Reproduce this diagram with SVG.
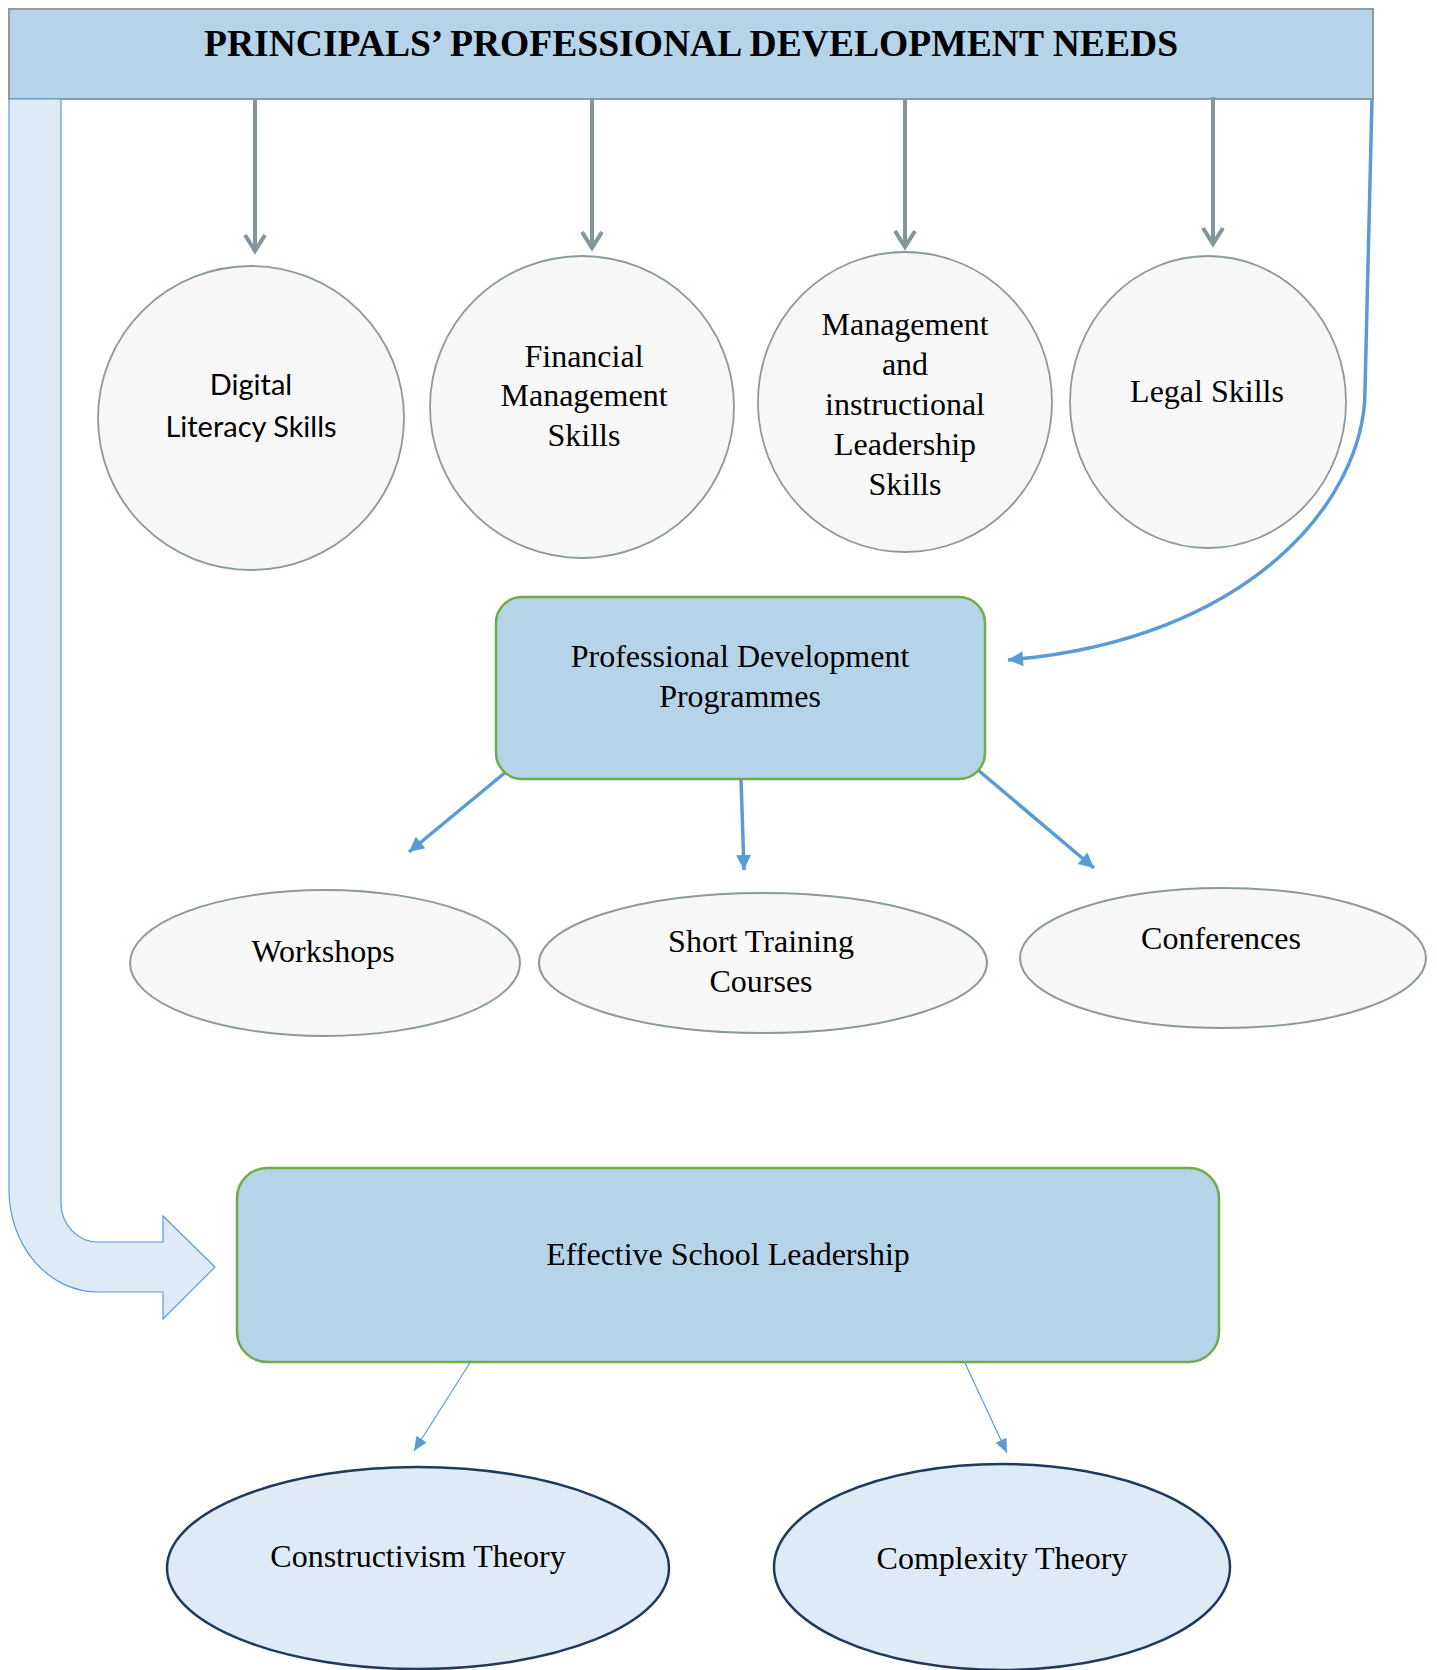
<svg xmlns="http://www.w3.org/2000/svg" width="1437" height="1670" viewBox="0 0 1437 1670">
<defs>
<style>
.serif{font-family:"Liberation Serif","Times New Roman",serif;font-size:32px;fill:#000;text-anchor:middle}
.sans{font-family:Lato,"Liberation Sans",sans-serif;font-size:29px;fill:#000;text-anchor:middle}
.title{font-family:"Liberation Serif","Times New Roman",serif;font-size:37.6px;font-weight:bold;fill:#000;text-anchor:middle}
.skill{fill:#F7F7F7;stroke:#8B999F;stroke-width:1.8}
.prog{fill:#F7F7F7;stroke:#8B999F;stroke-width:2}
.box{fill:#B5D4EA;stroke:#70AD47;stroke-width:2.5}
.theory{fill:#DEEAF6;stroke:#1F3A5A;stroke-width:2.5}
.gline{stroke:#85959C;stroke-width:4;fill:none}
.bline{stroke:#5B9BD5;stroke-width:3.5;fill:none}
.tline{stroke:#5B9BD5;stroke-width:1.2;fill:none}
</style>
<marker id="chev" viewBox="-20 -12 24 24" markerWidth="24" markerHeight="24" refX="0" refY="0" markerUnits="userSpaceOnUse" orient="auto" overflow="visible">
<path d="M-16,-10 L0,0 L-16,10" fill="none" stroke="#85959C" stroke-width="4"/>
</marker>
<marker id="tri" viewBox="-16 -9 18 18" markerWidth="18" markerHeight="18" refX="0" refY="0" markerUnits="userSpaceOnUse" orient="auto" overflow="visible">
<path d="M-15,-7.5 L0,0 L-15,7.5 Z" fill="#5B9BD5"/>
</marker>
<marker id="tris" viewBox="-16 -9 18 18" markerWidth="18" markerHeight="18" refX="0" refY="0" markerUnits="userSpaceOnUse" orient="auto" overflow="visible">
<path d="M-14,-6 L0,0 L-14,6 Z" fill="#5B9BD5"/>
</marker>
</defs>
<rect width="1437" height="1670" fill="#fff"/>

<g id="title">
<rect x="9" y="9" width="1364" height="90" fill="#B5D4EA" stroke="#8C9BA3" stroke-width="2"/>
<text class="title" x="691" y="56">PRINCIPALS’ PROFESSIONAL DEVELOPMENT NEEDS</text>
</g>

<g id="bent-arrow">
<path d="M9,99 L9,1190 A89 102 0 0 0 98,1292 L163,1292 L163,1319 L215,1267 L163,1216 L163,1242 L98,1242 A37 39 0 0 1 61,1203 L61,99 Z" fill="#DEEAF6" stroke="#5B9BD5" stroke-width="1.2"/>
</g>

<g id="connectors">
<line class="gline" x1="255" y1="99" x2="255" y2="251" marker-end="url(#chev)"/>
<line class="gline" x1="592" y1="99" x2="592" y2="248" marker-end="url(#chev)"/>
<line class="gline" x1="905" y1="99" x2="905" y2="247" marker-end="url(#chev)"/>
<line class="gline" x1="1213" y1="97" x2="1213" y2="244" marker-end="url(#chev)"/>
<path class="bline" d="M1372,99 L1365,390 C1365,500 1250,640 1008,660" stroke-width="3.2" marker-end="url(#tri)"/>
<line class="bline" x1="507" y1="771" x2="409" y2="852" marker-end="url(#tri)"/>
<line class="bline" x1="741" y1="779" x2="744" y2="870" marker-end="url(#tri)"/>
<line class="bline" x1="978" y1="770" x2="1094" y2="868" marker-end="url(#tri)"/>
<line class="tline" x1="473" y1="1358" x2="414" y2="1451" marker-end="url(#tris)"/>
<line class="tline" x1="965" y1="1363" x2="1007" y2="1453" marker-end="url(#tris)"/>
</g>

<g id="digital">
<ellipse class="skill" cx="251" cy="418" rx="153" ry="152"/>
<text class="sans" x="251" y="395">Digital</text>
<text class="sans" x="251" y="437">Literacy Skills</text>
</g>
<g id="financial">
<ellipse class="skill" cx="582" cy="407" rx="152" ry="151"/>
<text class="serif" x="584" y="367">Financial</text>
<text class="serif" x="584" y="406">Management</text>
<text class="serif" x="584" y="446">Skills</text>
</g>
<g id="management">
<ellipse class="skill" cx="905" cy="402" rx="147" ry="150"/>
<text class="serif" x="905" y="335">Management</text>
<text class="serif" x="905" y="375">and</text>
<text class="serif" x="905" y="415">instructional</text>
<text class="serif" x="905" y="455">Leadership</text>
<text class="serif" x="905" y="495">Skills</text>
</g>
<g id="legal">
<ellipse class="skill" cx="1208" cy="402" rx="138" ry="146"/>
<text class="serif" x="1207" y="402">Legal Skills</text>
</g>

<g id="pdp">
<rect class="box" x="496" y="597" width="489" height="182" rx="26" ry="26"/>
<text class="serif" x="740" y="667">Professional Development</text>
<text class="serif" x="740" y="707">Programmes</text>
</g>

<g id="workshops">
<ellipse class="prog" cx="325" cy="963" rx="195" ry="73" stroke-width="2.5"/>
<text class="serif" x="323" y="962">Workshops</text>
</g>
<g id="short-training">
<ellipse class="prog" cx="763" cy="963" rx="224" ry="70"/>
<text class="serif" x="761" y="952">Short Training</text>
<text class="serif" x="761" y="992">Courses</text>
</g>
<g id="conferences">
<ellipse class="prog" cx="1223" cy="958" rx="203" ry="70"/>
<text class="serif" x="1221" y="949">Conferences</text>
</g>

<g id="esl">
<rect class="box" x="237" y="1168" width="982" height="194" rx="30" ry="30"/>
<text class="serif" x="728" y="1265">Effective School Leadership</text>
</g>

<g id="constructivism">
<ellipse class="theory" cx="418" cy="1568" rx="251" ry="101"/>
<text class="serif" x="418" y="1567">Constructivism Theory</text>
</g>
<g id="complexity">
<ellipse class="theory" cx="1002" cy="1567" rx="228" ry="103"/>
<text class="serif" x="1002" y="1569">Complexity Theory</text>
</g>
</svg>
